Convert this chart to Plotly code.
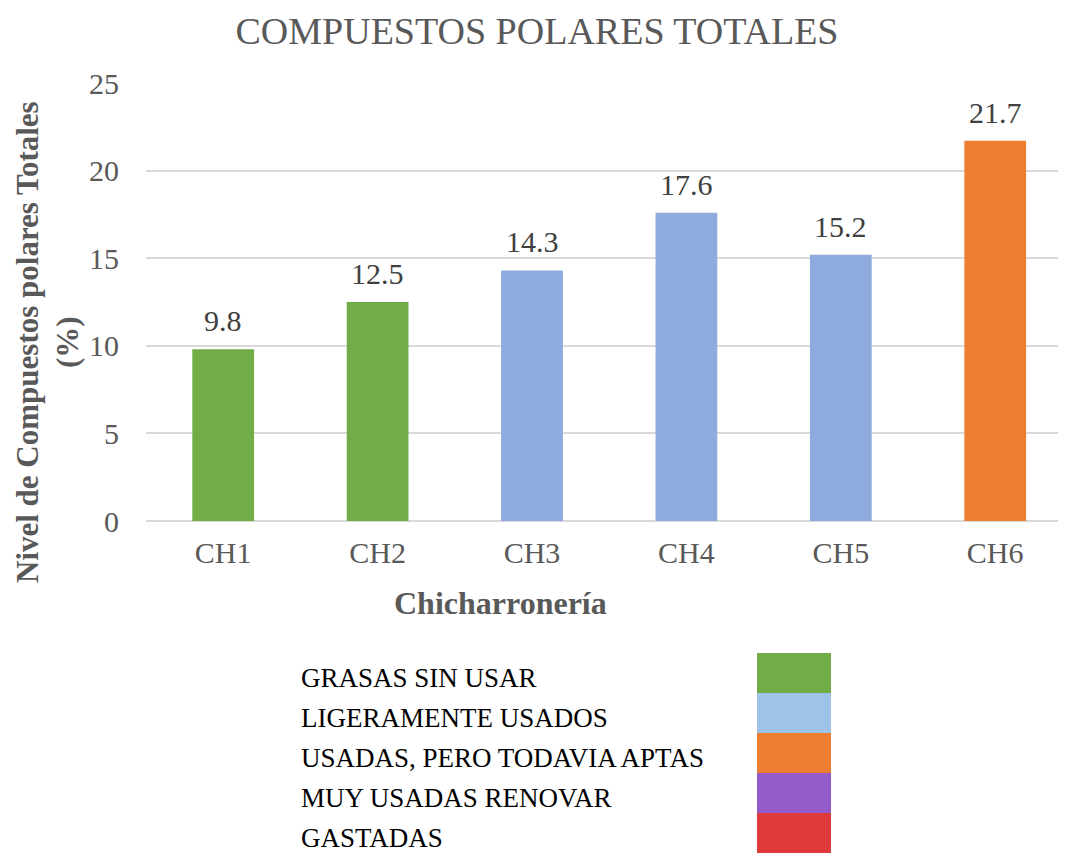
import plotly.graph_objects as go

categories = ["CH1", "CH2", "CH3", "CH4", "CH5", "CH6"]
values = [9.8, 12.5, 14.3, 17.6, 15.2, 21.7]
bar_colors = ["#70AD47", "#70AD47", "#8FAADC", "#8FAADC", "#8FAADC", "#ED7D31"]
value_labels = ["9.8", "12.5", "14.3", "17.6", "15.2", "21.7"]
y_ticks = [0, 5, 10, 15, 20, 25]

legend_labels = ["GRASAS SIN USAR", "LIGERAMENTE USADOS", "USADAS, PERO TODAVIA APTAS",
                 "MUY USADAS RENOVAR", "GASTADAS"]
legend_colors = ["#70AD47", "#9DC3E6", "#ED7D31", "#955BCA", "#DE3A3A"]

OFF = 8  # page body margin
W, H = 1066 - OFF, 853 - OFF
L, R, T, B = 146 - OFF, 0, 83 - OFF, 853 - 521
FONT = "Liberation Serif"
GRAY = "#595959"

def px(x):
    return (x - OFF - L) / (W - L - R)

def py(y):
    return (H - B - (y - OFF)) / (H - B - T)

fig = go.Figure()
fig.add_trace(go.Bar(
    x=categories, y=values, marker_color=bar_colors, marker_line_width=0,
    width=0.4, showlegend=False,
))

shapes = []
annotations = []

for cat, val, lab in zip(categories, values, value_labels):
    annotations.append(dict(x=cat, y=val, xref="x", yref="y", text=lab,
                            showarrow=False, xanchor="center", yanchor="bottom",
                            yshift=10, font=dict(family=FONT, size=30, color="#404040")))

top = 653
for i, (lab, col) in enumerate(zip(legend_labels, legend_colors)):
    y0 = top + i * 40
    shapes.append(dict(type="rect", xref="paper", yref="paper",
                       x0=px(757), x1=px(831), y0=py(y0 + 40), y1=py(y0),
                       fillcolor=col, line_width=0, layer="above"))
    annotations.append(dict(xref="paper", yref="paper", x=px(300), y=py(y0 + 25),
                            text=lab, showarrow=False, xanchor="left", yanchor="middle",
                            borderpad=0,
                            font=dict(family=FONT, size=27, color="#000000")))

annotations.append(dict(xref="paper", yref="paper", x=px(500), y=py(603),
                        text="<b>Chicharronería</b>", showarrow=False,
                        xanchor="center", yanchor="middle",
                        font=dict(family=FONT, size=32, color=GRAY)))
annotations.append(dict(xref="paper", yref="paper", x=px(47), y=py(342),
                        text="<b>Nivel de Compuestos polares Totales<br>(%)</b>",
                        textangle=-90, showarrow=False,
                        xanchor="center", yanchor="middle",
                        font=dict(family=FONT, size=31, color=GRAY)))

fig.update_layout(
    width=W, height=H,
    margin=dict(l=L, r=R, t=T, b=B, pad=0),
    paper_bgcolor="white", plot_bgcolor="white",
    title=dict(text="COMPUESTOS POLARES TOTALES", x=(537 - OFF) / W, xanchor="center",
               y=1 - (31 - OFF) / H, yanchor="middle",
               font=dict(family=FONT, size=38, color=GRAY)),
    xaxis=dict(range=[-0.5, -0.5 + (W - L - R) / 154.4], showgrid=False,
               showline=False, zeroline=False,
               tickfont=dict(family=FONT, size=30, color=GRAY),
               ticks="", ticklabelstandoff=11, fixedrange=True),
    yaxis=dict(range=[0, 25], tickvals=y_ticks, showgrid=True, gridcolor="#D9D9D9",
               gridwidth=1.5, zeroline=True, zerolinecolor="#D9D9D9", zerolinewidth=2,
               showline=False,
               tickfont=dict(family=FONT, size=30, color=GRAY),
               ticks="", ticklabelstandoff=26),
    shapes=shapes, annotations=annotations,
    bargap=0.6,
)

fig.write_html("out.html")
